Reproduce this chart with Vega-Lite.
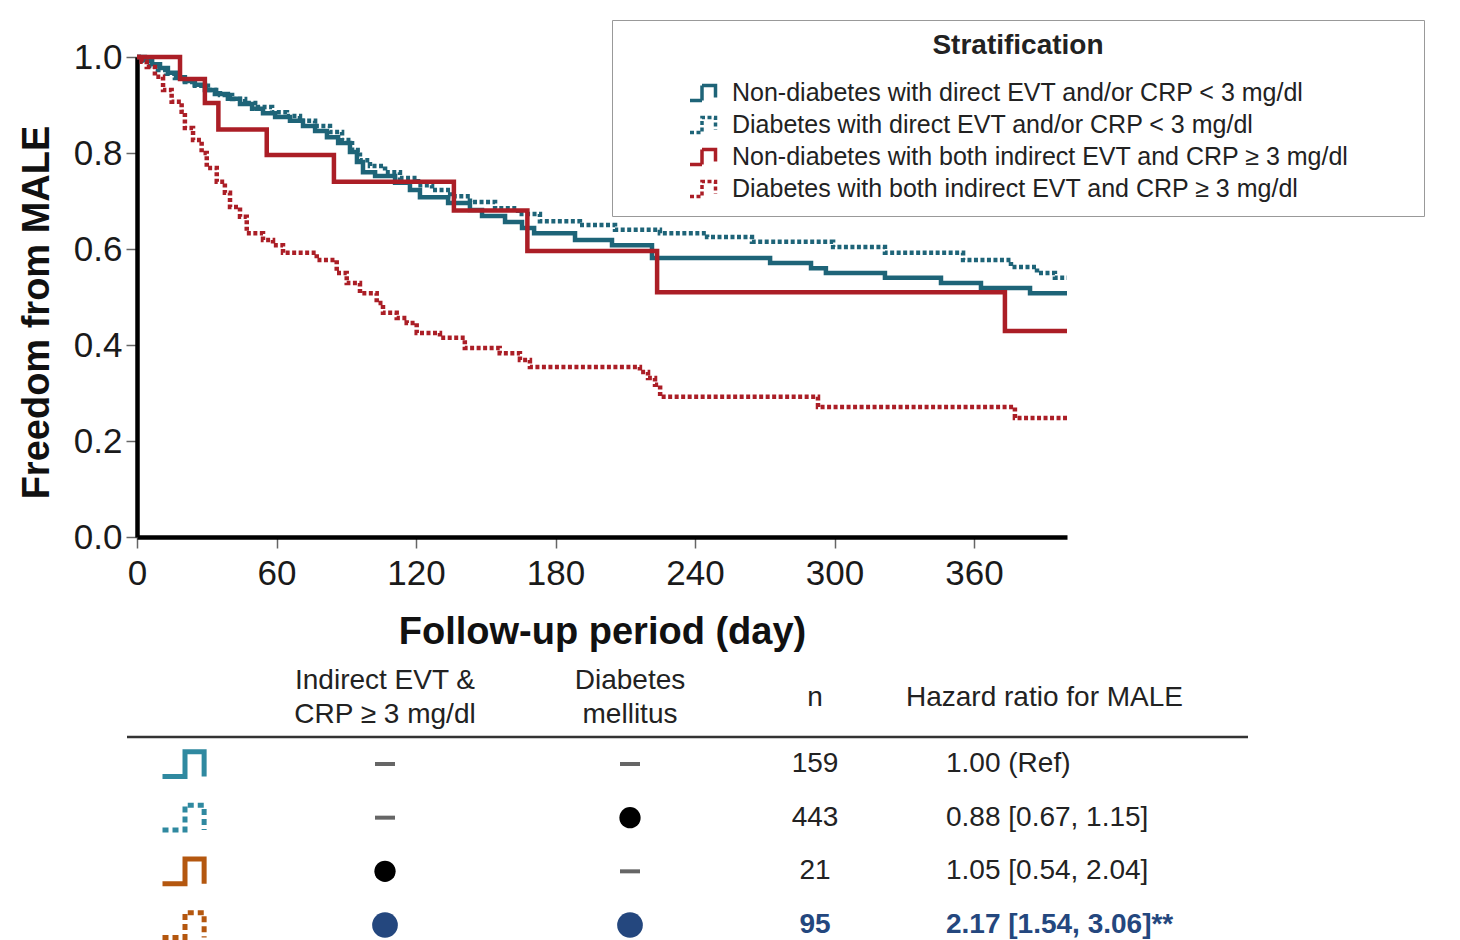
{
  "$schema": "https://vega.github.io/schema/vega-lite/v6.json",
  "width": 930,
  "height": 480,
  "autosize": {"type": "none"},
  "padding": {"left": 137, "top": 57, "right": 393, "bottom": 403},
  "background": "white",
  "config": {
    "view": {"stroke": null},
    "font": "Liberation Sans",
    "axis": {
      "grid": false,
      "domainColor": "#000",
      "domainWidth": 4.5,
      "tickColor": "#666",
      "tickWidth": 1.5,
      "tickSize": 11,
      "labelFont": "Liberation Sans",
      "labelFontSize": 35,
      "labelColor": "#1a1a1a",
      "titleFont": "Liberation Sans",
      "titleFontSize": 38,
      "titleFontWeight": "bold",
      "titleColor": "#111"
    },
    "axisY": {"labelPadding": 4},
    "axisX": {"labelPadding": 8},
    "legend": {
      "labelFont": "Liberation Sans",
      "labelFontSize": 25,
      "labelColor": "#222",
      "titleFont": "Liberation Sans",
      "titleFontSize": 28,
      "titleFontWeight": "bold",
      "titleColor": "#222",
      "titleAnchor": "middle",
      "titlePadding": 16,
      "padding": 12,
      "strokeColor": "#999",
      "fillColor": "#fff",
      "symbolType": "M-1,0.5H-0.2V-0.5H0.7V0.3",
      "symbolSize": 900,
      "symbolStrokeWidth": 3.5,
      "rowPadding": 0,
      "symbolOffset": 64,
      "labelOffset": 10,
      "labelLimit": 1000
    }
  },
  "datasets": {
    "groups": [
      {"g": "A", "label": "Non-diabetes with direct EVT and/or CRP < 3 mg/dl"},
      {"g": "B", "label": "Diabetes with direct EVT and/or CRP < 3 mg/dl"},
      {"g": "C", "label": "Non-diabetes with both indirect EVT and CRP ≥ 3 mg/dl"},
      {"g": "D", "label": "Diabetes with both indirect EVT and CRP ≥ 3 mg/dl"}
    ],
    "km": [
      {"g":"A","day":0,"surv":1},{"g":"A","day":3.4,"surv":0.994},{"g":"A","day":6.5,"surv":0.985},{"g":"A","day":9.9,"surv":0.977},{"g":"A","day":13.3,"surv":0.967},{"g":"A","day":16.8,"surv":0.958},{"g":"A","day":20.6,"surv":0.95},{"g":"A","day":24.9,"surv":0.942},{"g":"A","day":29.2,"surv":0.931},{"g":"A","day":33.5,"surv":0.923},{"g":"A","day":39.1,"surv":0.913},{"g":"A","day":44.3,"surv":0.902},{"g":"A","day":49.5,"surv":0.892},{"g":"A","day":54.2,"surv":0.883},{"g":"A","day":59.4,"surv":0.875},{"g":"A","day":65.8,"surv":0.867},{"g":"A","day":71.4,"surv":0.856},{"g":"A","day":76.6,"surv":0.846},{"g":"A","day":81.7,"surv":0.833},{"g":"A","day":86.5,"surv":0.821},{"g":"A","day":91.6,"surv":0.802},{"g":"A","day":94.6,"surv":0.781},{"g":"A","day":97.2,"surv":0.76},{"g":"A","day":102.4,"surv":0.752},{"g":"A","day":111,"surv":0.738},{"g":"A","day":117.4,"surv":0.723},{"g":"A","day":121.7,"surv":0.708},{"g":"A","day":133.8,"surv":0.696},{"g":"A","day":143.2,"surv":0.681},{"g":"A","day":148.4,"surv":0.669},{"g":"A","day":158.3,"surv":0.656},{"g":"A","day":165.6,"surv":0.644},{"g":"A","day":170.8,"surv":0.633},{"g":"A","day":188.4,"surv":0.619},{"g":"A","day":204.3,"surv":0.608},{"g":"A","day":221.5,"surv":0.581},{"g":"A","day":272.3,"surv":0.571},{"g":"A","day":289.9,"surv":0.56},{"g":"A","day":296.3,"surv":0.55},{"g":"A","day":321.7,"surv":0.54},{"g":"A","day":345.8,"surv":0.529},{"g":"A","day":363,"surv":0.519},{"g":"A","day":384.1,"surv":0.508},{"g":"A","day":400,"surv":0.508},
      {"g":"B","day":0,"surv":1},{"g":"B","day":2.6,"surv":0.992},{"g":"B","day":5.6,"surv":0.981},{"g":"B","day":9,"surv":0.973},{"g":"B","day":12.5,"surv":0.965},{"g":"B","day":16.3,"surv":0.956},{"g":"B","day":20.6,"surv":0.948},{"g":"B","day":24.9,"surv":0.94},{"g":"B","day":30.5,"surv":0.931},{"g":"B","day":35.7,"surv":0.921},{"g":"B","day":40.9,"surv":0.9125},{"g":"B","day":46.5,"surv":0.904},{"g":"B","day":52,"surv":0.896},{"g":"B","day":58.1,"surv":0.885},{"g":"B","day":64.5,"surv":0.877},{"g":"B","day":70.1,"surv":0.867},{"g":"B","day":76.6,"surv":0.856},{"g":"B","day":83,"surv":0.844},{"g":"B","day":88.2,"surv":0.827},{"g":"B","day":92.5,"surv":0.806},{"g":"B","day":95.9,"surv":0.785},{"g":"B","day":100.2,"surv":0.773},{"g":"B","day":106.7,"surv":0.76},{"g":"B","day":113.1,"surv":0.748},{"g":"B","day":120.9,"surv":0.733},{"g":"B","day":126.9,"surv":0.723},{"g":"B","day":134.7,"surv":0.71},{"g":"B","day":143.2,"surv":0.698},{"g":"B","day":154,"surv":0.685},{"g":"B","day":163.9,"surv":0.673},{"g":"B","day":173.3,"surv":0.658},{"g":"B","day":190.5,"surv":0.65},{"g":"B","day":205.6,"surv":0.64},{"g":"B","day":224.9,"surv":0.633},{"g":"B","day":245.2,"surv":0.625},{"g":"B","day":264.5,"surv":0.615},{"g":"B","day":299.4,"surv":0.604},{"g":"B","day":321.7,"surv":0.592},{"g":"B","day":355.3,"surv":0.577},{"g":"B","day":375.9,"surv":0.5625},{"g":"B","day":387.1,"surv":0.55},{"g":"B","day":394.8,"surv":0.54},{"g":"B","day":400,"surv":0.54},
      {"g":"C","day":0,"surv":1},{"g":"C","day":18.5,"surv":0.954},{"g":"C","day":29.2,"surv":0.904},{"g":"C","day":35,"surv":0.849},{"g":"C","day":55.8,"surv":0.796},{"g":"C","day":84.7,"surv":0.74},{"g":"C","day":136.3,"surv":0.68},{"g":"C","day":167.9,"surv":0.596},{"g":"C","day":223.7,"surv":0.51},{"g":"C","day":373.3,"surv":0.429},{"g":"C","day":400,"surv":0.429},
      {"g":"D","day":0,"surv":1},{"g":"D","day":2,"surv":0.99},{"g":"D","day":4.2,"surv":0.979},{"g":"D","day":7.7,"surv":0.959},{"g":"D","day":11.2,"surv":0.931},{"g":"D","day":14.9,"surv":0.907},{"g":"D","day":19.2,"surv":0.886},{"g":"D","day":20.6,"surv":0.852},{"g":"D","day":24.1,"surv":0.827},{"g":"D","day":27.8,"surv":0.8},{"g":"D","day":30,"surv":0.769},{"g":"D","day":34.3,"surv":0.74},{"g":"D","day":37.8,"surv":0.717},{"g":"D","day":40,"surv":0.6875},{"g":"D","day":44.3,"surv":0.667},{"g":"D","day":47.2,"surv":0.633},{"g":"D","day":54.2,"surv":0.619},{"g":"D","day":58.5,"surv":0.608},{"g":"D","day":62.8,"surv":0.592},{"g":"D","day":77.3,"surv":0.577},{"g":"D","day":85.9,"surv":0.55},{"g":"D","day":90.2,"surv":0.529},{"g":"D","day":95.9,"surv":0.508},{"g":"D","day":103.1,"surv":0.4875},{"g":"D","day":105.8,"surv":0.467},{"g":"D","day":111.7,"surv":0.456},{"g":"D","day":116,"surv":0.446},{"g":"D","day":120.3,"surv":0.425},{"g":"D","day":130.3,"surv":0.415},{"g":"D","day":141,"surv":0.394},{"g":"D","day":156,"surv":0.383},{"g":"D","day":164.7,"surv":0.369},{"g":"D","day":169,"surv":0.354},{"g":"D","day":216.3,"surv":0.344},{"g":"D","day":219.8,"surv":0.331},{"g":"D","day":222.8,"surv":0.317},{"g":"D","day":225,"surv":0.292},{"g":"D","day":292.9,"surv":0.271},{"g":"D","day":377.6,"surv":0.248},{"g":"D","day":400,"surv":0.248}
    ],
    "tbl": [
      {"row": 2, "g": "A", "evt": "no", "dm": "no", "n": "159", "hr": "1.00 (Ref)", "sig": false},
      {"row": 3, "g": "B", "evt": "no", "dm": "yes", "n": "443", "hr": "0.88 [0.67, 1.15]", "sig": false},
      {"row": 4, "g": "C", "evt": "yes", "dm": "no", "n": "21", "hr": "1.05 [0.54, 2.04]", "sig": false},
      {"row": 5, "g": "D", "evt": "yes", "dm": "yes", "n": "95", "hr": "2.17 [1.54, 3.06]**", "sig": true}
    ],
    "headers": [
      {"col": 2, "text": "Indirect EVT &\nCRP ≥ 3 mg/dl"},
      {"col": 3, "text": "Diabetes\nmellitus"}
    ]
  },
  "layer": [
    {
      "data": {"name": "km"},
      "transform": [
        {"lookup": "g", "from": {"data": {"name": "groups"}, "key": "g", "fields": ["label"]}}
      ],
      "mark": {"type": "line", "interpolate": "step-after", "strokeWidth": 4.5, "strokeCap": "butt"},
      "encoding": {
        "x": {
          "field": "day", "type": "quantitative",
          "scale": {"domain": [0, 400], "nice": false},
          "axis": {"values": [0, 60, 120, 180, 240, 300, 360], "title": "Follow-up period (day)", "titleY": 95, "titleBaseline": "middle", "labelFlush": false}
        },
        "y": {
          "field": "surv", "type": "quantitative",
          "scale": {"domain": [0, 1], "nice": false},
          "axis": {"values": [0, 0.2, 0.4, 0.6, 0.8, 1], "format": ".1f", "title": "Freedom from MALE", "titleX": -100, "titleY": 255, "titleBaseline": "middle", "titleAngle": -90, "titleAlign": "center"}
        },
        "color": {
          "field": "label", "type": "nominal",
          "scale": {
            "domain": ["Non-diabetes with direct EVT and/or CRP < 3 mg/dl", "Diabetes with direct EVT and/or CRP < 3 mg/dl", "Non-diabetes with both indirect EVT and CRP ≥ 3 mg/dl", "Diabetes with both indirect EVT and CRP ≥ 3 mg/dl"],
            "range": ["#1e6478", "#1e6478", "#ab1e26", "#ab1e26"]
          },
          "legend": {"title": "Stratification", "orient": "none", "legendX": 475, "legendY": -37, "labelExpr": "datum.label + '\u00a0\u00a0\u00a0\u00a0\u00a0\u00a0\u00a0\u00a0\u00a0\u200b'"}
        },
        "strokeDash": {
          "field": "label", "type": "nominal",
          "scale": {
            "domain": ["Non-diabetes with direct EVT and/or CRP < 3 mg/dl", "Diabetes with direct EVT and/or CRP < 3 mg/dl", "Non-diabetes with both indirect EVT and CRP ≥ 3 mg/dl", "Diabetes with both indirect EVT and CRP ≥ 3 mg/dl"],
            "range": [[1, 0], [4, 2.5], [1, 0], [4, 2.5]]
          },
          "legend": {"title": "Stratification", "orient": "none", "legendX": 475, "legendY": -37, "labelExpr": "datum.label + '\u00a0\u00a0\u00a0\u00a0\u00a0\u00a0\u00a0\u00a0\u00a0\u200b'"}
        }
      }
    },
    {
      "data": {"name": "tbl"},
      "layer": [
        {
          "data": {"name": "headers"},
          "mark": {"type": "text", "fontSize": 28, "color": "#222", "align": "center", "baseline": "middle", "lineBreak": "\n", "lineHeight": 34, "dy": -17},
          "encoding": {
            "x": {"field": "col", "type": "quantitative", "scale": {"domain": [0, 1, 2, 3, 4, 5, 6], "range": [-10, 48, 248, 493, 678, 809, 1111], "nice": false, "zero": false}, "axis": null},
            "y": {"datum": 0, "type": "quantitative", "scale": {"domain": [0, 1, 2, 5], "range": [641, 680, 707, 868], "nice": false, "zero": false}, "axis": null},
            "text": {"field": "text"}
          }
        },
        {
          "data": {"values": [{"text": "n"}]},
          "mark": {"type": "text", "fontSize": 28, "color": "#222", "align": "center", "baseline": "middle"},
          "encoding": {
            "x": {"datum": 4, "type": "quantitative"},
            "y": {"datum": 0, "type": "quantitative"},
            "text": {"field": "text"}
          }
        },
        {
          "data": {"values": [{"text": "Hazard ratio for MALE"}]},
          "mark": {"type": "text", "fontSize": 28, "color": "#222", "align": "left", "baseline": "middle", "dx": -40},
          "encoding": {
            "x": {"datum": 5, "type": "quantitative"},
            "y": {"datum": 0, "type": "quantitative"},
            "text": {"field": "text"}
          }
        },
        {
          "data": {"values": [{"rule": "header"}]},
          "mark": {"type": "rule", "color": "#333", "strokeWidth": 2.5},
          "encoding": {
            "x": {"datum": 0, "type": "quantitative"},
            "x2": {"datum": 6},
            "y": {"datum": 1, "type": "quantitative"}
          }
        },
        {
          "mark": {"type": "point", "shape": "M-1,0.55H0V-0.55H0.85V0.55", "filled": false, "size": 2025, "strokeWidth": 5, "opacity": 1},
          "encoding": {
            "x": {"datum": 1, "type": "quantitative"},
            "y": {"field": "row", "type": "quantitative"},
            "color": {"field": "g", "type": "nominal", "scale": {"domain": ["A", "B", "C", "D"], "range": ["#2f89a0", "#2f89a0", "#b4570f", "#b4570f"]}, "legend": null},
            "strokeDash": {"field": "g", "type": "nominal", "scale": {"domain": ["A", "B", "C", "D"], "range": [[1, 0], [6, 4], [1, 0], [6, 4]]}, "legend": null}
          }
        },
        {
          "transform": [{"filter": "datum.evt == 'no'"}],
          "mark": {"type": "point", "shape": "M-1,0H1", "filled": false, "size": 400, "strokeWidth": 4, "color": "#666", "opacity": 1},
          "encoding": {
            "x": {"datum": 2, "type": "quantitative"},
            "y": {"field": "row", "type": "quantitative"}
          }
        },
        {
          "transform": [{"filter": "datum.dm == 'no'"}],
          "mark": {"type": "point", "shape": "M-1,0H1", "filled": false, "size": 400, "strokeWidth": 4, "color": "#666", "opacity": 1},
          "encoding": {
            "x": {"datum": 3, "type": "quantitative"},
            "y": {"field": "row", "type": "quantitative"}
          }
        },
        {
          "transform": [{"filter": "datum.evt == 'yes'"}],
          "mark": {"type": "point", "shape": "circle", "filled": true, "opacity": 1},
          "encoding": {
            "x": {"datum": 2, "type": "quantitative"},
            "y": {"field": "row", "type": "quantitative"},
            "color": {"condition": {"test": "datum.sig", "value": "#24477e"}, "value": "#000"},
            "size": {"condition": {"test": "datum.sig", "value": 660}, "value": 452}
          }
        },
        {
          "transform": [{"filter": "datum.dm == 'yes'"}],
          "mark": {"type": "point", "shape": "circle", "filled": true, "opacity": 1},
          "encoding": {
            "x": {"datum": 3, "type": "quantitative"},
            "y": {"field": "row", "type": "quantitative"},
            "color": {"condition": {"test": "datum.sig", "value": "#24477e"}, "value": "#000"},
            "size": {"condition": {"test": "datum.sig", "value": 660}, "value": 452}
          }
        },
        {
          "transform": [{"filter": "!datum.sig"}],
          "mark": {"type": "text", "fontSize": 28, "color": "#222", "align": "center", "baseline": "middle"},
          "encoding": {
            "x": {"datum": 4, "type": "quantitative"},
            "y": {"field": "row", "type": "quantitative"},
            "text": {"field": "n"}
          }
        },
        {
          "transform": [{"filter": "datum.sig"}],
          "mark": {"type": "text", "fontSize": 28, "fontWeight": "bold", "color": "#24477e", "align": "center", "baseline": "middle"},
          "encoding": {
            "x": {"datum": 4, "type": "quantitative"},
            "y": {"field": "row", "type": "quantitative"},
            "text": {"field": "n"}
          }
        },
        {
          "transform": [{"filter": "!datum.sig"}],
          "mark": {"type": "text", "fontSize": 28, "color": "#222", "align": "left", "baseline": "middle"},
          "encoding": {
            "x": {"datum": 5, "type": "quantitative"},
            "y": {"field": "row", "type": "quantitative"},
            "text": {"field": "hr"}
          }
        },
        {
          "transform": [{"filter": "datum.sig"}],
          "mark": {"type": "text", "fontSize": 28, "fontWeight": "bold", "color": "#24477e", "align": "left", "baseline": "middle"},
          "encoding": {
            "x": {"datum": 5, "type": "quantitative"},
            "y": {"field": "row", "type": "quantitative"},
            "text": {"field": "hr"}
          }
        }
      ]
    }
  ],
  "resolve": {
    "scale": {"x": "independent", "y": "independent", "color": "independent", "strokeDash": "independent", "size": "independent"},
    "axis": {"x": "independent", "y": "independent"},
    "legend": {"color": "independent", "strokeDash": "independent"}
  }
}
